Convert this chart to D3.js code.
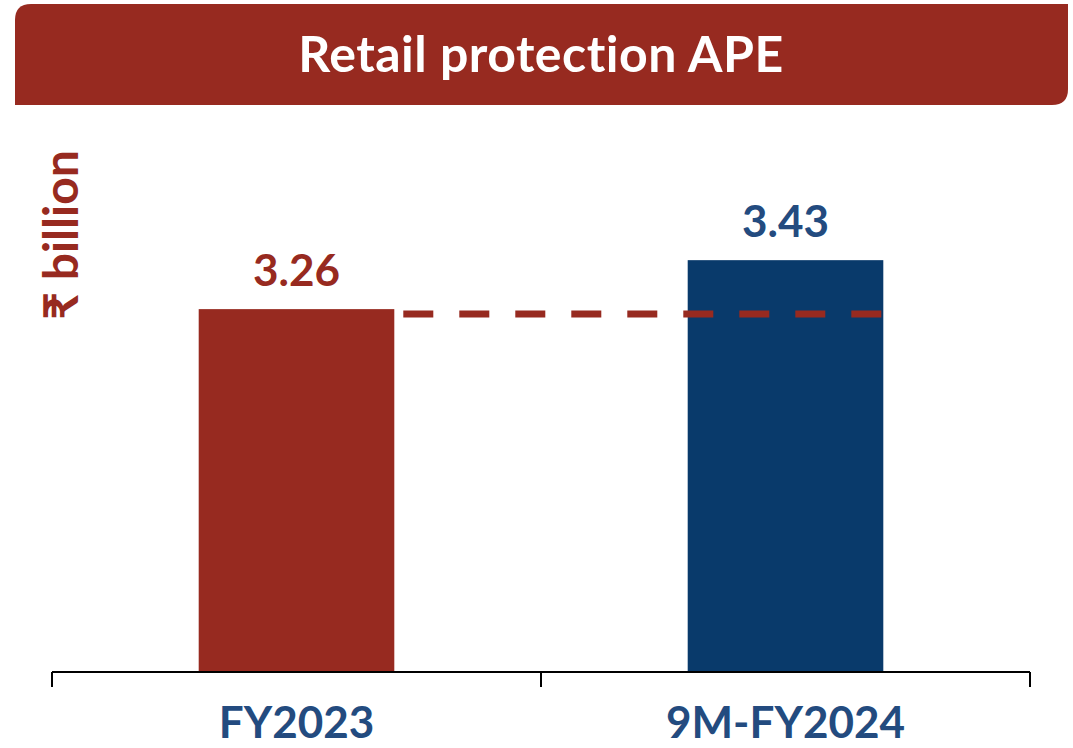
<!DOCTYPE html>
<html>
<head>
<meta charset="utf-8">
<script src="https://cdn.jsdelivr.net/npm/d3@7"></script>
<style>
  body { margin: 0; background: #fff; }
  svg { display: block; font-family: Lato, "Noto Sans", sans-serif; font-variant-ligatures: none; }
</style>
</head>
<body>
<svg width="1073" height="748"></svg>
<script>
// chart data
var categories = ["FY2023", "9M-FY2024"];
var values = [3.26, 3.43];
var valueLabels = ["3.26", "3.43"];
var barColors = ["#972A20", "#093A6B"];
var labelColors = ["#972A20", "#234B7F"];
var title = "Retail protection APE";
var yTitle = "₹ billion";

var svg = d3.select("svg");
var red = "#972A20";

// title banner, rounded top-left and bottom-right
var bx0 = 15, by0 = 4, bx1 = 1068, by1 = 105, r = 16;
svg.append("path")
  .attr("d", "M" + bx0 + "," + (by0 + r) +
    " Q" + bx0 + "," + by0 + " " + (bx0 + r) + "," + by0 +
    " L" + bx1 + "," + by0 +
    " L" + bx1 + "," + (by1 - r) +
    " Q" + bx1 + "," + by1 + " " + (bx1 - r) + "," + by1 +
    " L" + bx0 + "," + by1 + " Z")
  .attr("fill", red);

svg.append("text")
  .attr("x", 541).attr("y", 72)
  .attr("text-anchor", "middle")
  .attr("fill", "#fff")
  .attr("font-size", 50)
  .attr("font-weight", 700)
  .attr("letter-spacing", 0.5)
  .text(title);

// scales
var x = d3.scaleBand()
  .domain(categories)
  .range([52, 1030])
  .paddingInner(0.6)
  .paddingOuter(0.3);

var y = d3.scaleLinear()
  .domain([2, 3.5])
  .range([672, 240]);

// bars
svg.selectAll("rect.bar")
  .data(values)
  .enter().append("rect")
  .attr("class", "bar")
  .attr("x", function(d, i) { return x(categories[i]); })
  .attr("y", function(d) { return y(d); })
  .attr("width", x.bandwidth())
  .attr("height", function(d) { return y(y.domain()[0]) - y(d); })
  .attr("fill", function(d, i) { return barColors[i]; });

// value labels
svg.selectAll("text.val")
  .data(values)
  .enter().append("text")
  .attr("class", "val")
  .attr("x", function(d, i) { return x(categories[i]) + x.bandwidth() / 2; })
  .attr("y", function(d) { return y(d) - 23; })
  .attr("text-anchor", "middle")
  .attr("font-size", 44)
  .attr("font-weight", 700)
  .attr("fill", function(d, i) { return labelColors[i]; })
  .text(function(d, i) { return valueLabels[i]; });

// dashed reference line at the FY2023 level
svg.append("line")
  .attr("x1", x(categories[0]) + x.bandwidth() + 9)
  .attr("x2", x(categories[1]) + x.bandwidth())
  .attr("y1", y(values[0]) + 5)
  .attr("y2", y(values[0]) + 5)
  .attr("stroke", red)
  .attr("stroke-width", 7)
  .attr("stroke-dasharray", "30,26");

// x axis with boundary ticks
var axisY = 672;
var edges = [52, 541, 1030];
svg.append("line")
  .attr("x1", 52).attr("x2", 1030)
  .attr("y1", axisY).attr("y2", axisY)
  .attr("stroke", "#000").attr("stroke-width", 2);
svg.selectAll("line.tick")
  .data(edges)
  .enter().append("line")
  .attr("class", "tick")
  .attr("x1", function(d) { return d; }).attr("x2", function(d) { return d; })
  .attr("y1", axisY).attr("y2", axisY + 15)
  .attr("stroke", "#000").attr("stroke-width", 2);

svg.selectAll("text.cat")
  .data(categories)
  .enter().append("text")
  .attr("class", "cat")
  .attr("x", function(d) { return x(d) + x.bandwidth() / 2; })
  .attr("y", 738)
  .attr("text-anchor", "middle")
  .attr("font-size", 44)
  .attr("font-weight", 700)
  .attr("fill", "#234B7F")
  .text(function(d) { return d; });

// y title
svg.append("text")
  .attr("transform", "translate(78,235) rotate(-90)")
  .attr("text-anchor", "middle")
  .attr("font-size", 48)
  .attr("font-weight", 700)
  .attr("fill", red)
  .text(yTitle);
</script>
</body>
</html>
